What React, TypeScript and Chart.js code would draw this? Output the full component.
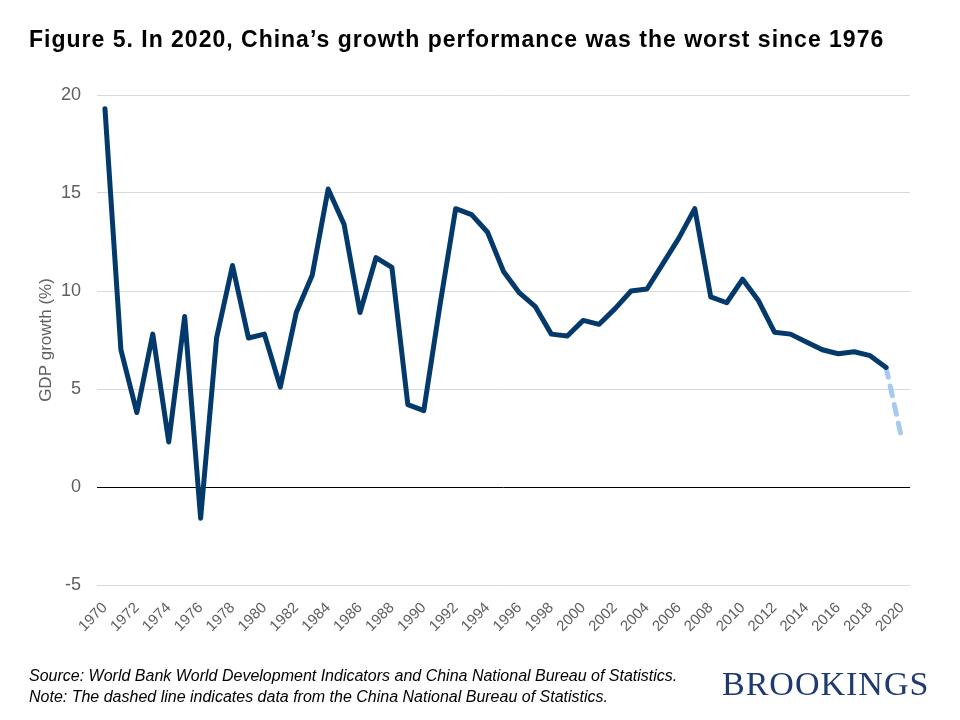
import React, { useEffect, useRef } from 'react';
import { Chart, registerables } from 'chart.js';

Chart.register(...registerables);

const years = [
  '1970', '1971', '1972', '1973', '1974', '1975', '1976', '1977', '1978', '1979',
  '1980', '1981', '1982', '1983', '1984', '1985', '1986', '1987', '1988', '1989',
  '1990', '1991', '1992', '1993', '1994', '1995', '1996', '1997', '1998', '1999',
  '2000', '2001', '2002', '2003', '2004', '2005', '2006', '2007', '2008', '2009',
  '2010', '2011', '2012', '2013', '2014', '2015', '2016', '2017', '2018', '2019',
  '2020',
];

// World Bank WDI series, 1970-2019
const worldBankGrowth = [
  19.3, 7.0, 3.8, 7.8, 2.3, 8.7, -1.6, 7.6, 11.3, 7.6,
  7.8, 5.1, 8.9, 10.8, 15.2, 13.4, 8.9, 11.7, 11.2, 4.2,
  3.9, 9.2, 14.2, 13.9, 13.0, 11.0, 9.9, 9.2, 7.8, 7.7,
  8.5, 8.3, 9.1, 10.0, 10.1, 11.4, 12.7, 14.2, 9.7, 9.4,
  10.6, 9.5, 7.9, 7.8, 7.4, 7.0, 6.8, 6.9, 6.7, 6.1,
];

// China National Bureau of Statistics (dashed)
const nbsYears = ['2019', '2020'];
const nbsGrowth = [6.1, 2.4];

const yMin = -5;
const yMax = 20;
const yStep = 5;

const NAVY = '#04396b';
const LIGHT_BLUE = '#a6c9f1';
const GRAY = '#5f5f5f';
const GRID = '#d9d9d9';
const SANS = '"Liberation Sans", Arial, Helvetica, sans-serif';

export default function App() {
  const canvasRef = useRef<HTMLCanvasElement | null>(null);

  useEffect(() => {
    if (!canvasRef.current) return;
    const chart = new Chart(canvasRef.current, {
      type: 'line',
      data: {
        labels: years,
        datasets: [
          {
            label: 'World Bank',
            data: worldBankGrowth,
            borderColor: NAVY,
            backgroundColor: NAVY,
            borderWidth: 5,
            pointRadius: 0,
            borderCapStyle: 'round',
            borderJoinStyle: 'round',
            tension: 0,
            fill: false,
          },
          {
            label: 'NBS',
            data: nbsYears.map((y, i) => ({ x: y, y: nbsGrowth[i] })),
            borderColor: LIGHT_BLUE,
            backgroundColor: LIGHT_BLUE,
            borderWidth: 5,
            borderDash: [10, 9],
            borderCapStyle: 'round',
            pointRadius: 0,
            tension: 0,
            fill: false,
          },
        ],
      },
      options: {
        responsive: false,
        animation: false,
        layout: { padding: { top: 95, right: 50, bottom: 55, left: 0 } },
        plugins: {
          legend: { display: false },
          tooltip: { enabled: false },
          title: { display: false },
        },
        scales: {
          x: {
            type: 'category',
            offset: true,
            grid: { display: false, drawTicks: false },
            border: { display: false },
            ticks: {
              autoSkip: false,
              maxRotation: 45,
              minRotation: 45,
              padding: 14,
              color: GRAY,
              font: { family: SANS, size: 15 },
              callback: function (this: any, value: any, index: number) {
                return index % 2 === 0 ? this.getLabelForValue(value) : '';
              },
            },
            afterFit: (scale: any) => {
              scale.height = 80;
            },
          },
          y: {
            min: yMin,
            max: yMax,
            ticks: {
              stepSize: yStep,
              padding: 16,
              color: GRAY,
              font: { family: SANS, size: 18 },
            },
            grid: {
              color: (ctx: any) => (ctx.tick && ctx.tick.value === 0 ? '#000000' : GRID),
              lineWidth: 1,
              drawTicks: false,
            },
            border: { display: false },
            title: {
              display: true,
              text: 'GDP growth (%)',
              color: GRAY,
              font: { family: SANS, size: 17 },
              padding: { top: 36, bottom: 0 },
            },
            afterFit: (scale: any) => {
              scale.width = 97;
            },
          },
        },
      },
    } as any);
    return () => chart.destroy();
  }, []);

  return (
    <div
      style={{
        position: 'fixed',
        left: 0,
        top: 0,
        width: 960,
        height: 720,
        background: '#ffffff',
        overflow: 'hidden',
      }}
    >
      <canvas
        ref={canvasRef}
        width={960}
        height={720}
        style={{ position: 'absolute', left: 0, top: 0, width: 960, height: 720 }}
      />
      <div
        style={{
          position: 'absolute',
          left: 29,
          top: 28,
          fontFamily: SANS,
          fontWeight: 'bold',
          fontSize: 23,
          lineHeight: 1,
          letterSpacing: 1,
          color: '#000',
          whiteSpace: 'nowrap',
        }}
      >
        Figure 5. In 2020, China’s growth performance was the worst since 1976
      </div>
      <div
        style={{
          position: 'absolute',
          left: 29,
          top: 665,
          fontFamily: SANS,
          fontStyle: 'italic',
          fontSize: 16,
          lineHeight: '21px',
          color: '#000',
          whiteSpace: 'nowrap',
        }}
      >
        <div>Source: World Bank World Development Indicators and China National Bureau of Statistics.</div>
        <div>Note: The dashed line indicates data from the China National Bureau of Statistics.</div>
      </div>
      <div
        style={{
          position: 'absolute',
          left: 722,
          top: 667,
          fontFamily: '"Liberation Serif", "Times New Roman", serif',
          fontSize: 34,
          lineHeight: 1,
          letterSpacing: 1,
          color: '#1f3a70',
          whiteSpace: 'nowrap',
        }}
      >
        BROOKINGS
      </div>
    </div>
  );
}
